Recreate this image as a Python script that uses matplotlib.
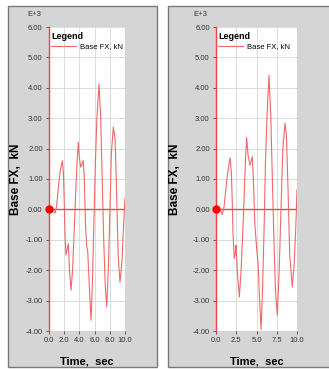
import matplotlib
matplotlib.use('Agg')
import matplotlib.pyplot as plt
from matplotlib.patches import Rectangle

plt.rcParams['font.family'] = ['Liberation Sans', 'DejaVu Sans']

# Data (time in s, force in kN x 1E+3)
t_left = [0.0, 0.5, 0.8, 1.0, 1.3, 1.5, 1.75, 1.9, 2.0, 2.1, 2.24, 2.4, 2.54, 2.7, 2.9,
          3.1, 3.3, 3.5, 3.7, 3.86, 4.0, 4.17, 4.35, 4.5, 4.65, 4.8, 4.96, 5.1, 5.3,
          5.53, 5.7, 5.9, 6.1, 6.3, 6.58, 6.8, 7.0, 7.2, 7.4, 7.59, 7.8, 8.0, 8.2,
          8.46, 8.7, 8.9, 9.1, 9.34, 9.6, 9.8, 10.0]
fx_left = [0.0, 0.0, -0.12, 0.1, 0.9, 1.3, 1.6, 1.2, 0.3, -0.8, -1.5, -1.3, -1.13, -2.0,
           -2.66, -2.0, -0.8, 0.5, 1.6, 2.21, 1.7, 1.39, 1.5, 1.61, 1.0, -0.5, -1.2,
           -1.4, -2.5, -3.65, -2.5, -0.5, 1.5, 3.0, 4.13, 3.0, 1.0, -1.0, -2.5, -3.21,
           -2.0, -0.2, 1.8, 2.71, 2.3, 0.5, -1.5, -2.39, -1.7, -0.6, 0.38]

t_right = [0.0, 0.5, 0.78, 1.0, 1.3, 1.5, 1.73, 1.9, 2.0, 2.1, 2.26, 2.4, 2.47, 2.65,
           2.88, 3.1, 3.3, 3.5, 3.65, 3.79, 3.95, 4.2, 4.35, 4.48, 4.6, 4.8, 5.02, 5.2,
           5.35, 5.56, 5.75, 5.95, 6.1, 6.3, 6.54, 6.75, 6.95, 7.15, 7.35, 7.57, 7.8,
           8.0, 8.25, 8.52, 8.7, 8.9, 9.1, 9.42, 9.65, 9.85, 10.0]
fx_right = [0.0, 0.0, -0.17, 0.1, 0.9, 1.3, 1.70, 1.2, 0.3, -0.8, -1.62, -1.4, -1.18,
            -2.1, -2.88, -2.0, -0.8, 0.6, 1.7, 2.36, 1.8, 1.45, 1.6, 1.74, 1.1, -0.5,
            -1.29, -1.8, -2.8, -3.96, -2.6, -0.5, 1.5, 3.1, 4.41, 3.2, 1.1, -1.0, -2.7,
            -3.49, -2.0, -0.2, 2.0, 2.84, 2.4, 0.6, -1.5, -2.55, -1.8, -0.6, 0.65]

xticks_left = [0.0, 2.0, 4.0, 6.0, 8.0, 10.0]
xticks_right = [0.0, 2.5, 5.0, 7.5, 10.0]
yticks = [-4, -3, -2, -1, 0, 1, 2, 3, 4, 5, 6]

W, H = 329, 369
fig = plt.figure(figsize=(W / 100, H / 100), dpi=100)
fig.patch.set_facecolor('white')

panel_gray = '#d5d5d5'
border_gray = '#7a7a7a'
red = '#ee4444'
curve_red = '#f06868'


def px(x0, y0, x1, y1):
    # pixel box -> figure fraction [left, bottom, width, height]
    return [x0 / W, 1 - y1 / H, (x1 - x0) / W, (y1 - y0) / H]


# gray panels behind each chart
for box in [(8, 6, 157, 367), (168, 6, 335, 367)]:
    l, b, w, h = px(*box)
    fig.patches.append(Rectangle((l, b), w, h, transform=fig.transFigure,
                                 facecolor=panel_gray, edgecolor=border_gray,
                                 linewidth=1.0, zorder=-5))

panels = [
    (px(49, 27, 125, 331), t_left, fx_left, xticks_left, 22, 34),
    (px(216, 27, 297, 331), t_right, fx_right, xticks_right, 181, 200),
]

for rect, t, fx, xt, ylab_x, e_x in panels:
    ax = fig.add_axes(rect)
    ax.set_facecolor('white')
    ax.set_xlim(0, 10)
    ax.set_ylim(-4, 6)
    ax.set_xticks(xt)
    ax.set_xticklabels(['%.1f' % v for v in xt])
    ax.set_yticks(yticks)
    ax.set_yticklabels(['%.2f' % v for v in yticks])
    ax.tick_params(labelsize=5.5, length=2.5, width=0.6, color='#444444',
                   labelcolor='#333333', pad=2)
    ax.grid(True, color='#dcdcdc', linewidth=0.7)
    ax.set_axisbelow(True)
    for s in ['top', 'right', 'bottom']:
        ax.spines[s].set_visible(False)
    ax.spines['left'].set_color(red)
    ax.spines['left'].set_linewidth(1.0)

    ax.axhline(0, color=red, linewidth=1.0, zorder=2)
    ax.plot(t, fx, color=curve_red, linewidth=0.8, label='Base FX, kN', zorder=3)
    ax.plot([0], [0], 'o', color='#ff0000', markersize=5, clip_on=False, zorder=5)

    ax.set_xlabel('Time,  sec', fontsize=8, fontweight='bold')
    ax.xaxis.set_label_coords(0.5, -0.085)
    ax.set_ylabel('Base FX,  kN', fontsize=8.5, fontweight='bold')
    ax.yaxis.set_label_coords((ylab_x - rect[0] * W) / (rect[2] * W), 0.5)

    leg = ax.legend(title='Legend', loc='upper left', bbox_to_anchor=(-0.03, 1.0),
                    frameon=False, handlelength=3.2, fontsize=5.5, alignment='left',
                    title_fontproperties={'weight': 'bold', 'size': 6.5},
                    borderaxespad=0.2, handletextpad=0.6, labelspacing=0.3)
    fig.text(e_x / W, 1 - 15 / H, 'E+3', fontsize=5.5, ha='center', va='center',
             color='#333333')

fig.savefig('out.png', dpi=100)
